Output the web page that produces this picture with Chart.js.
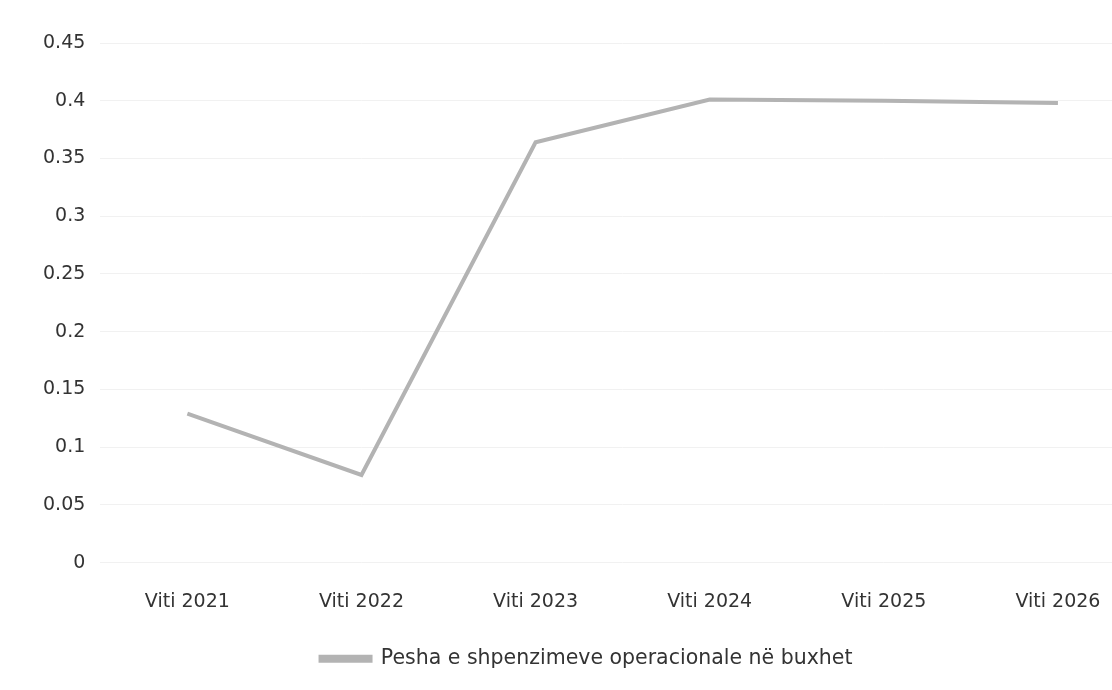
<!DOCTYPE html>
<html>
<head>
<meta charset="utf-8">
<script src="https://cdn.jsdelivr.net/npm/chart.js@4.4.1/dist/chart.umd.min.js"></script>
<style>
  html, body { margin: 0; padding: 0; background: #fff; overflow: hidden; }
  #wrap { position: relative; width: 1181px; height: 690px; }
</style>
</head>
<body>
<div id="wrap"><canvas id="chart"></canvas></div>
<script>
const categories = ["Viti 2021", "Viti 2022", "Viti 2023", "Viti 2024", "Viti 2025", "Viti 2026"];
const shareValues = [0.129, 0.076, 0.364, 0.401, 0.400, 0.398];
const seriesName = "Pesha e shpenzimeve operacionale në buxhet";
const yMin = 0;
const yMax = 0.45;
const yStep = 0.05;

const lineGray = "#b3b3b3";
const textColor = "#333333";

Chart.defaults.font.family = "'DejaVu Sans', sans-serif";
Chart.defaults.color = textColor;

new Chart(document.getElementById("chart"), {
  type: "line",
  data: {
    labels: categories,
    datasets: [{
      label: seriesName,
      data: shareValues,
      borderColor: lineGray,
      backgroundColor: lineGray,
      borderWidth: 4,
      pointRadius: 0,
      tension: 0
    }]
  },
  options: {
    responsive: true,
    maintainAspectRatio: false,
    animation: false,
    layout: { padding: { left: 28, right: 36, top: 43, bottom: 11 } },
    scales: {
      x: {
        offset: true,
        grid: { display: false },
        border: { display: false },
        ticks: { font: { size: 19 }, padding: 20, maxRotation: 0 }
      },
      y: {
        min: yMin,
        max: yMax,
        grid: { color: "#f1f1f1", lineWidth: 1, drawTicks: false },
        border: { display: false },
        ticks: {
          stepSize: yStep,
          font: { size: 19 },
          padding: 15,
          callback: v => String(parseFloat(v.toFixed(2)))
        }
      }
    },
    plugins: {
      legend: {
        position: "bottom",
        labels: {
          boxWidth: 50,
          boxHeight: 4,
          padding: 15,
          font: { size: 20.5 }
        }
      },
      tooltip: { enabled: false }
    }
  }
});
</script>
</body>
</html>
